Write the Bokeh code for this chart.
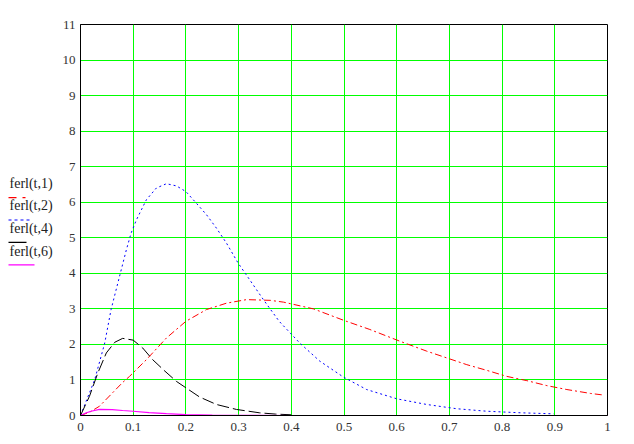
from bokeh.plotting import figure
from bokeh.layouts import row
from bokeh.models import Range1d, FixedTicker
from bokeh.core.properties import value
from bokeh.embed import file_html
from bokeh.resources import INLINE

# ---- data ----
t1 = [0, 0.018, 0.036, 0.08, 0.093, 0.125, 0.163, 0.20, 0.239, 0.277, 0.315, 0.36, 0.385, 0.442, 0.499,
      0.549, 0.606, 0.657, 0.695, 0.733, 0.771, 0.809, 0.847, 0.885, 0.923, 0.968, 0.99]
f1 = [0, 0.1, 0.26, 0.93, 1.10, 1.57, 2.18, 2.65, 2.98, 3.16, 3.26, 3.24, 3.19, 3.0, 2.68,
      2.42, 2.09, 1.81, 1.62, 1.43, 1.27, 1.10, 0.98, 0.84, 0.73, 0.62, 0.58]

t2 = [0, 0.027, 0.046, 0.058, 0.074, 0.087, 0.096, 0.106, 0.125, 0.144, 0.163, 0.182, 0.20, 0.22,
      0.239, 0.258, 0.277, 0.299, 0.321, 0.347, 0.377, 0.416, 0.454, 0.499, 0.543, 0.60, 0.657,
      0.714, 0.771, 0.835, 0.898]
f2 = [0, 1.01, 2.04, 2.98, 3.91, 4.66, 5.13, 5.5, 6.07, 6.4, 6.52, 6.46, 6.3, 5.97,
      5.65, 5.27, 4.85, 4.29, 3.82, 3.26, 2.65, 2.04, 1.53, 1.08, 0.73, 0.47, 0.31,
      0.19, 0.12, 0.076, 0.047]

t4 = [0, 0.017, 0.033, 0.049, 0.065, 0.08, 0.10, 0.118, 0.137, 0.16, 0.182, 0.20, 0.226, 0.258,
      0.296, 0.34, 0.37, 0.40]
f4 = [0, 0.54, 1.2, 1.76, 2.06, 2.17, 2.12, 1.90, 1.57, 1.25, 0.96, 0.78, 0.52, 0.31,
      0.17, 0.075, 0.04, 0.02]

t6 = [0, 0.01, 0.02, 0.036, 0.06, 0.08, 0.1, 0.13, 0.163, 0.2, 0.25, 0.3, 0.4, 1.0]
f6 = [0, 0.07, 0.12, 0.17, 0.165, 0.14, 0.12, 0.08, 0.05, 0.025, 0.01, 0.004, 0.0, 0.0]

legend_labels = ["ferl(t,1)", "ferl(t,2)", "ferl(t,4)", "ferl(t,6)"]
x_ticks = [0, 0.1, 0.2, 0.3, 0.4, 0.5, 0.6, 0.7, 0.8, 0.9, 1]
x_tick_labels = ["0", "0.1", "0.2", "0.3", "0.4", "0.5", "0.6", "0.7", "0.8", "0.9", "1"]
y_ticks = list(range(0, 12))

SERIF = "Liberation Serif"
GREEN = "#00ff00"

H = 436
LW = 55

# ---- main plot ----
p = figure(width=626 - LW, height=H, title=None, output_backend="svg", toolbar_location=None,
           x_range=Range1d(0, 1), y_range=Range1d(0, 11),
           min_border_left=80 - LW, min_border_right=19, min_border_top=24, min_border_bottom=21)
p.outline_line_color = "black"
p.background_fill_color = "white"
p.border_fill_color = "white"

p.xaxis.ticker = FixedTicker(ticks=x_ticks)
p.xaxis.major_label_overrides = {t: l for t, l in zip(x_ticks, x_tick_labels)}
p.yaxis.ticker = FixedTicker(ticks=y_ticks)
for ax in (p.xaxis, p.yaxis):
    ax.axis_line_color = "black"
    ax.major_tick_line_color = None
    ax.minor_tick_line_color = None
    ax.major_tick_out = 0
    ax.major_tick_in = 0
    ax.minor_tick_out = 0
    ax.minor_tick_in = 0
    ax.major_label_text_font = SERIF
    ax.major_label_text_font_size = "13px"
    ax.major_label_text_color = "#333333"
p.yaxis.major_label_standoff = 5
p.xaxis.major_label_standoff = 7
p.xgrid.grid_line_color = GREEN
p.ygrid.grid_line_color = GREEN

p.line(t1, f1, line_color="#ff0000", line_width=1, line_dash="7 3 2 3")
p.line(t2, f2, line_color="#0000ff", line_width=1, line_dash="2 3")
p.line(t4, f4, line_color="black", line_width=1, line_dash="12 4")
p.line(t6, f6, line_color="#ff00ff", line_width=1.2)

# ---- legend panel (left), coordinates = pixels of the page ----
lg = figure(width=LW, height=H, title=None, output_backend="svg", toolbar_location=None,
            x_range=Range1d(0, LW), y_range=Range1d(H, 0),
            min_border=0, min_border_left=0, min_border_right=0, min_border_top=0, min_border_bottom=0)
lg.axis.visible = False
lg.grid.visible = False
lg.outline_line_color = None
lg.border_fill_color = "white"

text_y = [177, 202, 228, 253]
line_y = [193, 218, 243, 268]
colors = ["#ff0000", "#0000ff", "black", "#ff00ff"]
dashes = ["8 6 3 6", "3 3", "solid", "solid"]
ends = [26, 29, 26, 34]
lg.text(x=[9] * 4, y=text_y, text=legend_labels, text_font=value(SERIF),
        text_font_size="14px", text_color="#222222", text_baseline="middle", text_align="left")
for yy, c, d, e in zip(line_y, colors, dashes, ends):
    lg.line([8, e], [yy, yy], line_color=c, line_dash=d, line_width=1.2)

layout = row(lg, p)
open("out.html", "w").write(file_html(layout, INLINE))
